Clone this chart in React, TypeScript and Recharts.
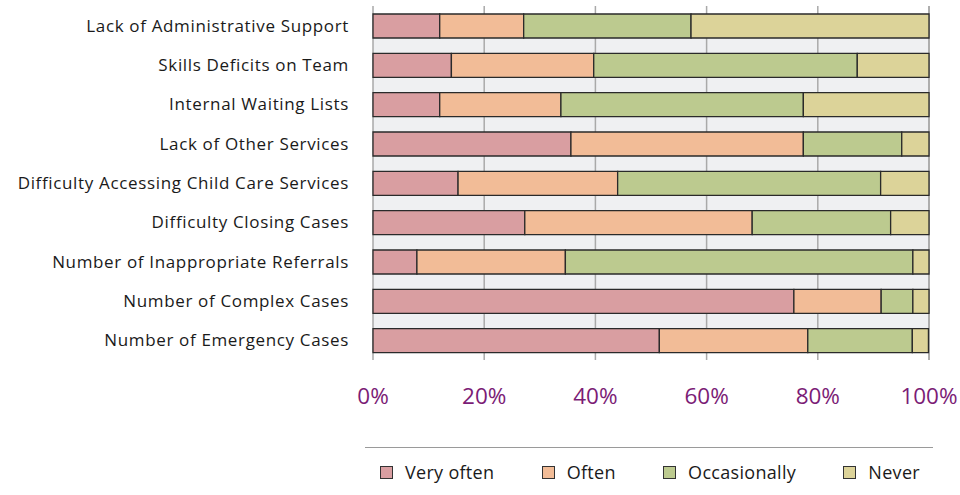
import { BarChart, Bar, XAxis, YAxis, CartesianGrid } from "recharts";

const categories = [
  "Lack of Administrative Support",
  "Skills Deficits on Team",
  "Internal Waiting Lists",
  "Lack of Other Services",
  "Difficulty Accessing Child Care Services",
  "Difficulty Closing Cases",
  "Number of Inappropriate Referrals",
  "Number of Complex Cases",
  "Number of Emergency Cases",
];

const veryOften = [12.0, 14.1, 12.0, 35.6, 15.3, 27.3, 7.9, 75.7, 51.5];
const often = [15.1, 25.6, 21.8, 41.8, 28.7, 40.9, 26.7, 15.7, 26.7];
const occasionally = [30.1, 47.4, 43.6, 17.7, 47.3, 24.9, 62.5, 5.7, 18.8];
const never = [42.8, 12.9, 22.6, 4.9, 8.7, 6.9, 2.9, 2.9, 2.9];

const xTicks = [0, 20, 40, 60, 80, 100];

const series = [
  { key: "veryOften", name: "Very often", values: veryOften, color: "#d99ea1" },
  { key: "often", name: "Often", values: often, color: "#f2bc97" },
  { key: "occasionally", name: "Occasionally", values: occasionally, color: "#bcca8f" },
  { key: "never", name: "Never", values: never, color: "#dcd399" },
];

const data = categories.map((name, i) => {
  const row: Record<string, string | number> = { name };
  series.forEach((s) => {
    row[s.key] = s.values[i];
  });
  return row;
});

const FONT = "'Open Sans', sans-serif";

export default function App() {
  return (
    <div style={{ position: "absolute", left: 0, top: 0, width: 960, height: 495, background: "#fff", fontFamily: FONT }}>
      <BarChart
        width={960}
        height={495}
        data={data}
        layout="vertical"
        barSize={24}
        margin={{ top: 6, right: 31, bottom: 95, left: 0 }}
      >
        <CartesianGrid
          horizontal={true}
          vertical={true}
          horizontalValues={[categories[0], categories[categories.length - 1]]}
          horizontalFill={["none", "#eff0f2", "none"]}
          stroke="#a9a9a9"
          strokeWidth={1.5}
        />
        <XAxis
          type="number"
          domain={[0, 100]}
          ticks={xTicks}
          tickFormatter={(v) => `${v}%`}
          axisLine={false}
          tickLine={false}
          tickSize={0}
          tickMargin={28}
          height={40}
          interval={0}
          tick={{ fill: "#7b1c76", fontSize: 22.5, fontFamily: FONT }}
        />
        <YAxis
          type="category"
          dataKey="name"
          width={373}
          axisLine={false}
          tickLine={false}
          tickSize={0}
          tickMargin={24}
          interval={0}
          tick={{ fill: "#1a1a1a", fontSize: 17, fontFamily: FONT, letterSpacing: 0.65 }}
        />
        {series.map((s) => (
          <Bar
            key={s.key}
            dataKey={s.key}
            name={s.name}
            stackId="a"
            fill={s.color}
            stroke="#2a2a2a"
            strokeWidth={1.3}
            isAnimationActive={false}
          />
        ))}
      </BarChart>

      {/* Legend */}
      <div
        style={{
          position: "absolute",
          left: 365,
          top: 447,
          width: 568,
          borderTop: "1.5px solid #9a9a9a",
          display: "flex",
          justifyContent: "space-between",
          padding: "12px 13px 0 15px",
          boxSizing: "border-box",
          fontSize: 18,
          letterSpacing: 0.3,
          color: "#1a1a1a",
        }}
      >
        {series.map((s) => (
          <div key={s.key} style={{ display: "flex", alignItems: "center", gap: 12 }}>
            <div style={{ width: 11, height: 11, background: s.color, border: "1px solid #333" }} />
            <span>{s.name}</span>
          </div>
        ))}
      </div>
    </div>
  );
}
